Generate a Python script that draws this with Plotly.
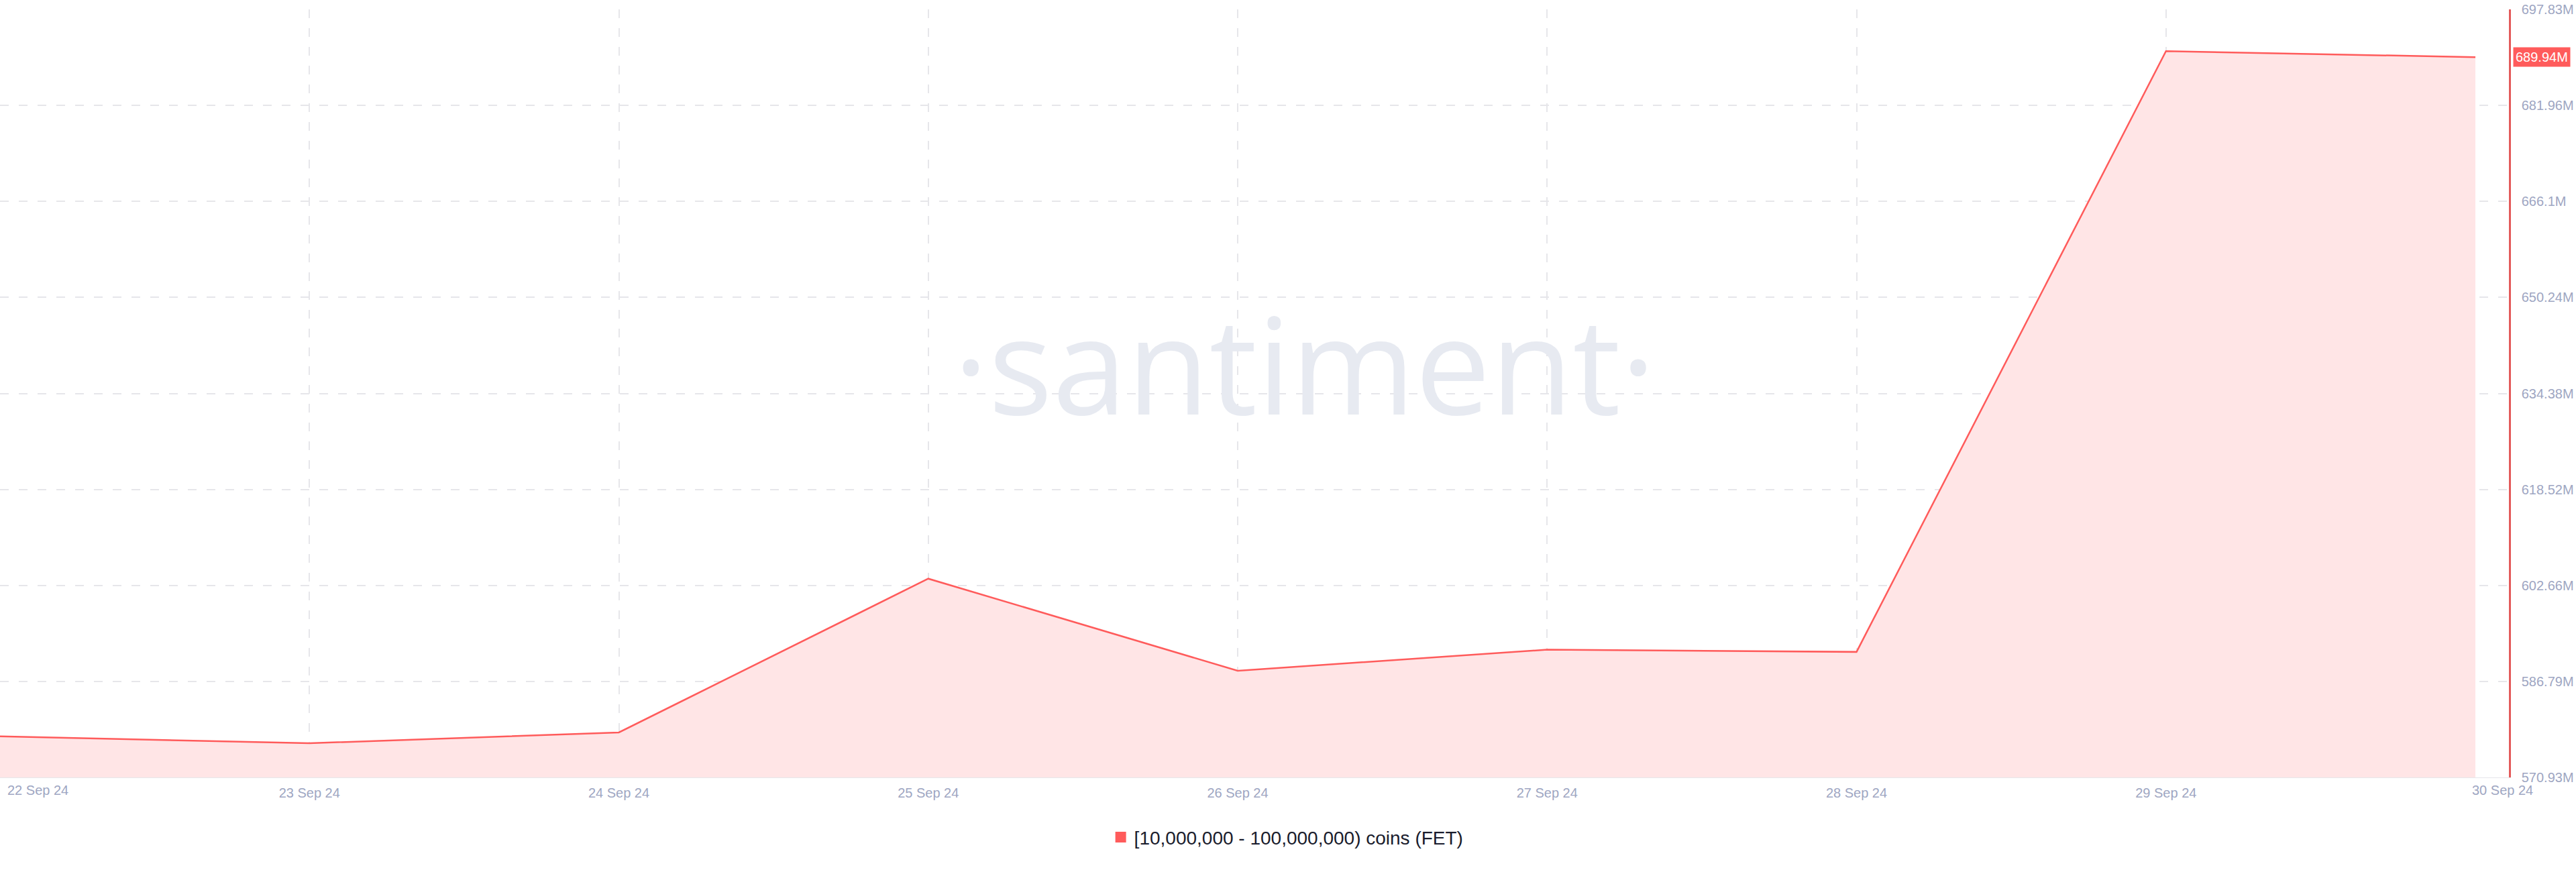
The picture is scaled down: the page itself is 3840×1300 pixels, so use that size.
import plotly.graph_objects as go

# ---- data ----
dates = ["2024-09-22", "2024-09-23", "2024-09-24", "2024-09-25", "2024-09-26",
         "2024-09-27", "2024-09-28", "2024-09-29", "2024-09-30"]
holdings = [577.72e6, 576.58e6, 578.36e6, 603.77e6, 588.56e6,
            592.04e6, 591.67e6, 690.93e6, 689.94e6]
series_name = "[10,000,000 - 100,000,000) coins (FET)"

y_tick_vals = [570.93e6, 586.79e6, 602.66e6, 618.52e6, 634.38e6,
               650.24e6, 666.10e6, 681.96e6, 697.83e6]
y_tick_text = ["570.93M", "586.79M", "602.66M", "618.52M", "634.38M",
               "650.24M", "666.1M", "681.96M", "697.83M"]
x_tick_vals = dates[:-1]
x_tick_text = ["", "23 Sep 24", "24 Sep 24", "25 Sep 24", "26 Sep 24",
               "27 Sep 24", "28 Sep 24", "29 Sep 24"]
first_label = "22 Sep 24"
last_label = "30 Sep 24"
last_value_label = "689.94M"

RED = "#ff5b5b"
TICK = "#9ea6c2"
GRID = "#e6e6ea"
FONT = "Liberation Sans"

fig = go.Figure()
fig.add_trace(go.Scatter(
    x=dates, y=holdings, mode="lines",
    line=dict(color=RED, width=2.5),
    fill="tozeroy", fillcolor="#ffe5e6",
    showlegend=False, hoverinfo="skip",
))
# legend entry (square swatch)
fig.add_trace(go.Scatter(
    x=[None], y=[None], mode="markers",
    marker=dict(symbol="square", size=17, color=RED),
    name=series_name, showlegend=True,
))

fig.update_layout(
    width=3840, height=1300,
    margin=dict(l=0, r=100, t=14, b=141),
    paper_bgcolor="white", plot_bgcolor="white",
    font=dict(family=FONT, size=20, color=TICK),
    showlegend=True,
    legend=dict(
        orientation="h", x=0.513, xanchor="center", y=-0.078, yanchor="middle",
        font=dict(family=FONT, size=28, color="#1a1c2c"),
        itemwidth=30, bgcolor="rgba(0,0,0,0)",
    ),
    xaxis=dict(
        type="date",
        range=["2024-09-22 00:00", "2024-09-30 02:36"],
        tickvals=x_tick_vals, ticktext=x_tick_text,
        showgrid=True, gridcolor=GRID, griddash="13px,15px", gridwidth=1.5,
        showline=True, linecolor=GRID, linewidth=1,
        ticks="", ticklabelstandoff=5,
        tickfont=dict(family=FONT, size=20, color=TICK),
        zeroline=False, fixedrange=True,
    ),
    yaxis=dict(
        side="right",
        range=[570.93e6, 697.83e6],
        tickvals=y_tick_vals, ticktext=y_tick_text,
        showgrid=True, gridcolor=GRID, griddash="13px,15px", gridwidth=1.5,
        showline=True, linecolor="#e35a5a", linewidth=2.5,
        ticks="", ticklabelstandoff=12,
        tickfont=dict(family=FONT, size=20, color=TICK),
        zeroline=False, fixedrange=True,
    ),
    annotations=[
        dict(text="·santiment·", xref="paper", yref="paper", x=0.52, y=0.54,
             xanchor="center", yanchor="middle", showarrow=False,
             font=dict(family="Open Sans", size=200, color="#e7eaf1")),
        dict(text=first_label, xref="x", yref="paper", x=dates[0], y=0,
             xanchor="left", yanchor="top", xshift=9, yshift=-6, showarrow=False,
             font=dict(family=FONT, size=20, color=TICK)),
        dict(text=last_label, xref="x", yref="paper", x=dates[-1], y=0,
             xanchor="center", yanchor="top", xshift=40, yshift=-6, showarrow=False,
             font=dict(family=FONT, size=20, color=TICK)),
        dict(text=last_value_label, xref="paper", yref="y", x=1, y=holdings[-1],
             xanchor="left", yanchor="middle", xshift=6, showarrow=False,
             bgcolor=RED, borderpad=3,
             font=dict(family=FONT, size=20, color="white")),
    ],
)

fig.write_html("out.html", config={"displayModeBar": False},
               post_script="document.body.style.margin='0';document.body.style.overflow='hidden';")
